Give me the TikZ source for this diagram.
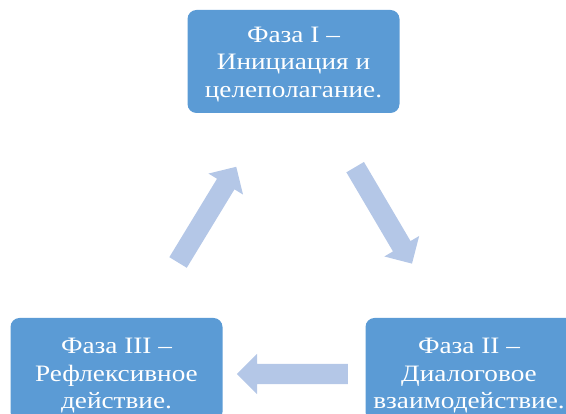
\documentclass[tikz,border=0pt]{standalone}
\usepackage{fontspec}
\setmainfont{Liberation Serif}
\usetikzlibrary{shapes.arrows}
\definecolor{boxblue}{HTML}{5B9BD5}
\definecolor{arrowblue}{HTML}{B4C7E7}
\begin{document}
\begin{tikzpicture}[x=1pt,y=1pt,
  phase/.style={draw=none, fill=boxblue, rounded corners=9pt, minimum width=212pt, minimum height=103pt, inner sep=0pt},
  phasetext/.style={text=white, align=center, font=\fontsize{23.5}{27.5}\selectfont, xscale=1.16, transform shape},
  blockarrow/.style={single arrow, fill=arrowblue, draw=none, inner xsep=0pt, inner ysep=10pt, single arrow head extend=10pt, single arrow head indent=0pt, minimum height=#1, shape border uses incircle=false}
]
\useasboundingbox (0,0) rectangle (566,414);
\clip (0,0) rectangle (566,414);
\node[phase] (p1) at (293.5,352.5) {};
\node[phase] (p2) at (471.5,44.5) {};
\node[phase] (p3) at (116.5,44.5) {};
\node[phasetext] (t1) at (293.5,349.5) {Фаза I –\\Инициация и\\целеполагание.};
\node[phasetext] (t2) at (469,38) {Фаза II –\\Диалоговое\\взаимодействие.};
\node[phasetext] (t3) at (116.5,38) {Фаза III –\\Рефлексивное\\действие.};
\node[blockarrow=112pt, rotate=-59.5] (a12) at (381,203) {};
\node[blockarrow=111pt, rotate=180] (a23) at (297.5,40) {};
\node[blockarrow=112pt, rotate=58.7] (a31) at (204.5,195) {};
\end{tikzpicture}
\end{document}
